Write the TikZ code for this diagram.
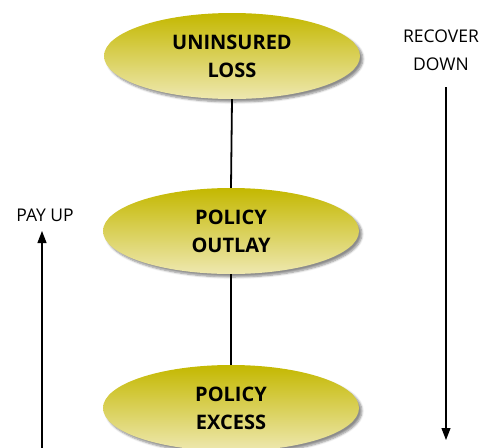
\documentclass[tikz,border=0pt]{standalone}
\usepackage{fontspec}
\setmainfont{Open Sans}
\usetikzlibrary{shapes.geometric,arrows.meta,shadows.blur}
\definecolor{olv}{RGB}{196,184,0}
\definecolor{olvlight}{RGB}{238,232,176}
\tikzset{
  oval/.style={ellipse, minimum width=256pt, minimum height=86pt, inner sep=0pt,
    top color=olv, middle color=olv, bottom color=olvlight,
    blur shadow={shadow xshift=3pt, shadow yshift=-3pt, shadow blur steps=6, shadow opacity=45},
    font=\fontsize{20}{28}\selectfont\bfseries, align=center, text=black},
  side/.style={font=\fontsize{17.5}{28}\selectfont, align=center, text=black},
  link/.style={line width=1.8pt, black},
  flow/.style={line width=1.2pt, black, -{Triangle[length=12pt,width=9pt]}}
}
\begin{document}
\begin{tikzpicture}[x=1pt,y=-1pt]
\useasboundingbox (0,0) rectangle (491,448);
\node[oval] (loss) at (232,56) {UNINSURED\\LOSS};
\node[oval] (outlay) at (231,231) {POLICY\\OUTLAY};
\node[oval] (excess) at (231,408) {POLICY\\EXCESS};
\draw[link] (loss.south) -- (outlay.north);
\draw[link] (outlay.south) -- (excess.north);
\node[side] (payup) at (45,215) {PAY UP};
\node[side] (recover) at (441,50) {RECOVER\\DOWN};
\coordinate (ls) at (42,448);
\coordinate (le) at (42,231);
\coordinate (rs) at (446,87);
\coordinate (re) at (446,440);
\draw[flow] (ls) -- (le);
\draw[flow] (rs) -- (re);
\end{tikzpicture}
\end{document}
